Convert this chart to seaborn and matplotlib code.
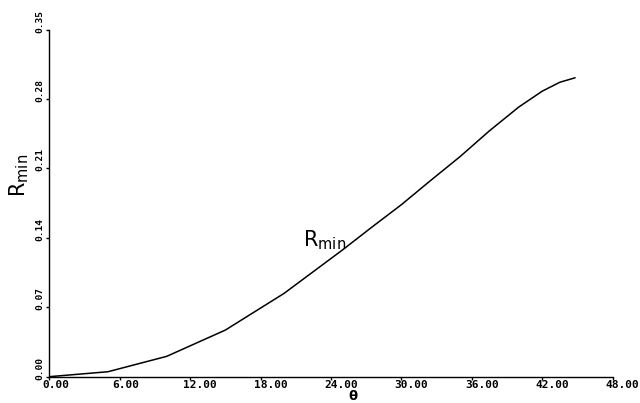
import numpy as np
import matplotlib
matplotlib.use("Agg")
import matplotlib.pyplot as plt
import matplotlib.transforms as mtransforms
import seaborn as sns

# Minimum R as a function of the angle theta (degrees)
theta = [0.0, 5.0, 10.0, 15.0, 20.0, 22.5, 25.0, 27.5, 30.0, 32.5, 35.0,
         37.5, 40.0, 42.0, 43.5, 44.8]
rmin = [0.000, 0.005, 0.0205, 0.047, 0.084, 0.106, 0.128, 0.151, 0.1735,
        0.198, 0.222, 0.248, 0.272, 0.288, 0.297, 0.3015]

x_ticks = [0, 6, 12, 18, 24, 30, 36, 42, 48]
y_ticks = [0.00, 0.07, 0.14, 0.21, 0.28, 0.35]

sns.set_style("white", rc={"text.color": "black", "axes.labelcolor": "black",
                           "xtick.color": "black", "ytick.color": "black",
                           "axes.edgecolor": "black"})
plt.rcParams["font.family"] = ["DejaVu Sans"]

fig = plt.figure(figsize=(6.4, 4.03), dpi=100)
ax = fig.add_axes([0.0770, 0.0653, 0.8803, 0.8610])

sns.lineplot(x=theta, y=rmin, ax=ax, color="black", linewidth=1.1,
             sort=False, estimator=None)

ax.set_xlim(0, 48)
ax.set_ylim(0, 0.35)
sns.despine(ax=ax)
for side in ("left", "bottom"):
    ax.spines[side].set_linewidth(1.0)

ax.set_xticks(x_ticks)
ax.set_xticklabels([f"{v:.2f}" for v in x_ticks], family="DejaVu Sans Mono",
                   fontsize=8, fontweight="bold", ha="left")
ax.set_yticks(y_ticks)
ax.set_yticklabels([f"{v:.2f}" for v in y_ticks], family="DejaVu Sans Mono",
                   fontsize=6.8, fontweight="bold", rotation=90,
                   va="bottom", ha="right")
ax.tick_params(axis="both", direction="out", length=2.2, width=1.0,
               pad=1.2, bottom=True, left=True)
ax.tick_params(axis="x", pad=0.4)

# shift tick labels so they start just before their tick
shift_x = mtransforms.ScaledTranslation(-0.07, 0, fig.dpi_scale_trans)
for lab in ax.get_xticklabels():
    lab.set_transform(lab.get_transform() + shift_x)
shift_y = mtransforms.ScaledTranslation(0, -0.03, fig.dpi_scale_trans)
for lab in ax.get_yticklabels():
    lab.set_transform(lab.get_transform() + shift_y)

ax.set_xlabel("")
ax.set_ylabel("")
ax.text(0.5385, -0.058, "θ", transform=ax.transAxes, fontsize=9.5,
        fontweight="bold", ha="center", va="center")
ax.text(-0.054, 0.581, r"$\mathregular{R_{min}}$", transform=ax.transAxes,
        fontsize=15, rotation=90, ha="center", va="center")

# curve label
ax.text(21.6, 0.131, r"$\mathregular{R_{min}}$", fontsize=15,
        ha="left", va="baseline")

fig.savefig("out.png", dpi=100)
